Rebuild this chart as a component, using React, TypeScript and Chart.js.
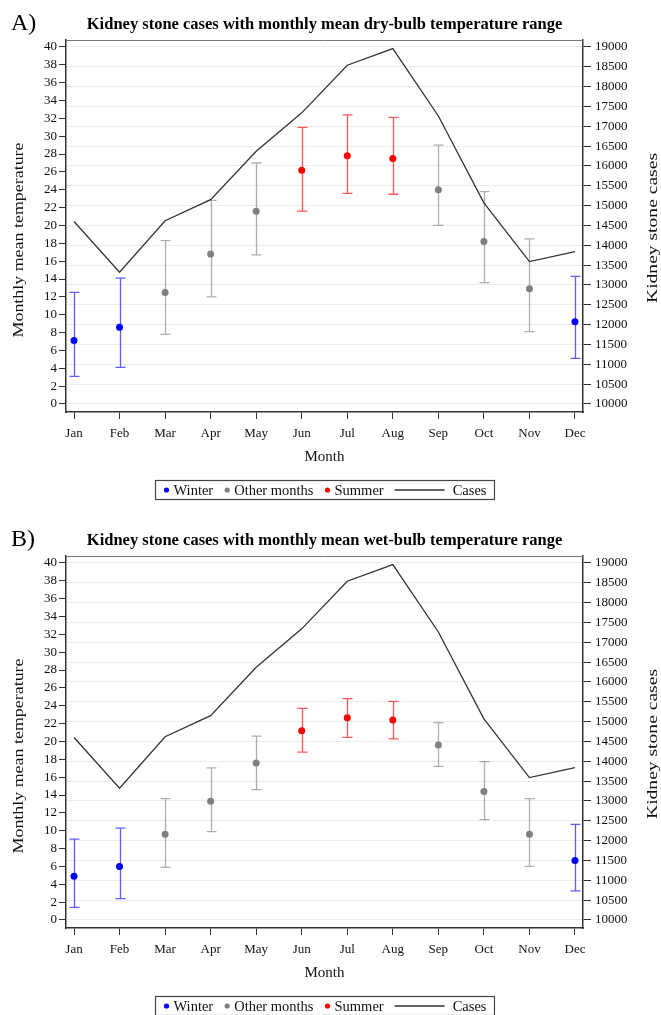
import React, { useEffect, useRef } from "react";
import { Chart, registerables } from "chart.js";

Chart.register(...registerables);

const months = ["Jan", "Feb", "Mar", "Apr", "May", "Jun", "Jul", "Aug", "Sep", "Oct", "Nov", "Dec"];
const season = ["winter", "winter", "other", "other", "other", "summer", "summer", "summer", "other", "other", "other", "winter"];
const tempTicks = [0, 2, 4, 6, 8, 10, 12, 14, 16, 18, 20, 22, 24, 26, 28, 30, 32, 34, 36, 38, 40];
const caseTicks = [10000, 10500, 11000, 11500, 12000, 12500, 13000, 13500, 14000, 14500, 15000, 15500, 16000, 16500, 17000, 17500, 18000, 18500, 19000];

const cases = [14600, 13320, 14620, 15150, 16370, 17340, 18540, 18960, 17260, 15070, 13590, 13840];

const dryMean = [7.1, 8.6, 12.5, 16.8, 21.6, 26.2, 27.8, 27.5, 24.0, 18.2, 12.9, 9.2];
const dryLow = [3.1, 4.1, 7.8, 12.0, 16.7, 21.6, 23.6, 23.5, 20.0, 13.6, 8.1, 5.1];
const dryHigh = [12.5, 14.1, 18.3, 22.8, 27.0, 31.0, 32.4, 32.1, 29.0, 23.8, 18.5, 14.3];

const wetMean = [4.9, 6.0, 9.6, 13.3, 17.6, 21.2, 22.65, 22.4, 19.6, 14.4, 9.6, 6.65];
const wetLow = [1.4, 2.4, 5.9, 9.9, 14.6, 18.8, 20.45, 20.3, 17.2, 11.25, 6.0, 3.25];
const wetHigh = [9.05, 10.3, 13.6, 17.05, 20.6, 23.7, 24.8, 24.5, 22.1, 17.75, 13.6, 10.7];

const FONT = "'Liberation Serif', 'Times New Roman', serif";
const pointColors: Record<string, string> = { winter: "#0000ff", other: "#808080", summer: "#ff0000" };
const barColors: Record<string, string> = {
  winter: "rgba(40,40,255,0.75)",
  other: "rgba(120,120,120,0.6)",
  summer: "rgba(255,30,30,0.75)",
};

function drawRotated(ctx: any, text: string, cx: number, cy: number, size: number, targetLen: number) {
  ctx.save();
  ctx.font = `${size}px ${FONT}`;
  ctx.fillStyle = "#111";
  ctx.textAlign = "center";
  ctx.textBaseline = "middle";
  const w = ctx.measureText(text).width;
  ctx.translate(cx, cy);
  ctx.rotate(-Math.PI / 2);
  ctx.scale(targetLen / w, 1);
  ctx.fillText(text, 0, 0);
  ctx.restore();
}

function makeConfig(letter: string, title: string, mean: number[], low: number[], high: number[], height: number) {
  const pts = (s: string) =>
    mean.map((v, i) => (season[i] === s ? { x: i, y: v } : null)).filter((p) => p !== null);

  const errorBars = {
    id: "errorBars",
    beforeDatasetsDraw(chart: any) {
      const { ctx } = chart;
      const xs = chart.scales.x;
      const ys = chart.scales.y;
      ctx.save();
      ctx.lineWidth = 1.3;
      for (let i = 0; i < mean.length; i++) {
        const x = Math.round(xs.getPixelForValue(i)) + 0.5;
        const y1 = ys.getPixelForValue(low[i]);
        const y2 = ys.getPixelForValue(high[i]);
        ctx.strokeStyle = barColors[season[i]];
        ctx.beginPath();
        ctx.moveTo(x, y1);
        ctx.lineTo(x, y2);
        ctx.moveTo(x - 5, y1);
        ctx.lineTo(x + 5, y1);
        ctx.moveTo(x - 5, y2);
        ctx.lineTo(x + 5, y2);
        ctx.stroke();
      }
      ctx.restore();
    },
  };

  const decorations = {
    id: "decorations",
    afterDraw(chart: any) {
      const { ctx, chartArea } = chart;
      ctx.save();
      ctx.strokeStyle = "#777";
      ctx.lineWidth = 1;
      ctx.beginPath();
      ctx.moveTo(chartArea.left, chartArea.top + 0.5);
      ctx.lineTo(chartArea.right, chartArea.top + 0.5);
      ctx.stroke();

      ctx.fillStyle = "#000";
      ctx.font = `24px ${FONT}`;
      ctx.textAlign = "left";
      ctx.textBaseline = "middle";
      ctx.fillText(letter, 11, 24);

      ctx.font = `bold 16.5px ${FONT}`;
      ctx.textAlign = "center";
      ctx.fillText(title, (chartArea.left + chartArea.right) / 2, 25);
      ctx.restore();

      drawRotated(ctx, "Monthly mean temperature", 19, 240, 15, 195);
      drawRotated(ctx, "Kidney stone cases", 653, 228, 15, 150);

      // legend
      ctx.save();
      ctx.font = `14.5px ${FONT}`;
      ctx.textBaseline = "middle";
      ctx.textAlign = "left";
      const items = chart.data.datasets.map((d: any) => ({ label: d.label, color: d.borderColor, line: d.yAxisID === "y1" }));
      const pad = 8;
      const dotGap = 10;
      const itemGap = 11;
      const lineLen = 50;
      let total = pad * 2;
      items.forEach((it: any, k: number) => {
        const w = ctx.measureText(it.label).width;
        total += (it.line ? lineLen + 8 : dotGap) + w + (k < items.length - 1 ? itemGap : 0);
      });
      const cx = (chartArea.left + chartArea.right) / 2;
      const bx = Math.round(cx - total / 2) + 0.5;
      const by = chartArea.bottom + 68.5;
      const bh = 19;
      ctx.strokeStyle = "#444";
      ctx.lineWidth = 1.2;
      ctx.strokeRect(bx, by, total, bh);
      let x = bx + pad;
      const ym = by + bh / 2;
      items.forEach((it: any) => {
        if (it.line) {
          ctx.strokeStyle = it.color;
          ctx.lineWidth = 1.3;
          ctx.beginPath();
          ctx.moveTo(x, ym);
          ctx.lineTo(x + lineLen, ym);
          ctx.stroke();
          x += lineLen + 8;
        } else {
          ctx.fillStyle = it.color;
          ctx.beginPath();
          ctx.arc(x + 3, ym, 2.6, 0, Math.PI * 2);
          ctx.fill();
          x += dotGap;
        }
        ctx.fillStyle = "#111";
        ctx.fillText(it.label, x, ym + 1);
        x += ctx.measureText(it.label).width + itemGap;
      });
      ctx.restore();
    },
  };

  const tickFont = { family: FONT, size: 13 };
  const titleFont = { family: FONT, size: 15 };

  return {
    type: "line",
    data: {
      datasets: [
        { label: "Winter", data: pts("winter"), yAxisID: "y", showLine: false, pointRadius: 3.5, pointBackgroundColor: pointColors.winter, borderColor: pointColors.winter, backgroundColor: pointColors.winter, pointBorderWidth: 0 },
        { label: "Other months", data: pts("other"), yAxisID: "y", showLine: false, pointRadius: 3.5, pointBackgroundColor: pointColors.other, borderColor: pointColors.other, backgroundColor: pointColors.other, pointBorderWidth: 0 },
        { label: "Summer", data: pts("summer"), yAxisID: "y", showLine: false, pointRadius: 3.5, pointBackgroundColor: pointColors.summer, borderColor: pointColors.summer, backgroundColor: pointColors.summer, pointBorderWidth: 0 },
        { label: "Cases", data: cases.map((c, i) => ({ x: i, y: c })), yAxisID: "y1", borderColor: "#333", borderWidth: 1.3, pointRadius: 0, tension: 0, fill: false },
      ],
    },
    options: {
      animation: false,
      responsive: false,
      devicePixelRatio: 1,
      layout: { padding: { top: 40, left: 0, right: 0, bottom: height - 40 - 372 - 58 } },
      plugins: { legend: { display: false }, tooltip: { enabled: false }, title: { display: false } },
      scales: {
        x: {
          type: "linear",
          min: -0.176,
          max: 11.176,
          afterBuildTicks: (s: any) => { s.ticks = months.map((_, i) => ({ value: i })); },
          afterFit: (s: any) => { s.height = 58; },
          ticks: { callback: (_v: any, i: number) => months[i], font: tickFont, color: "#111", padding: 7, autoSkip: false, maxRotation: 0 },
          grid: { drawOnChartArea: false, tickLength: 7, tickColor: "#333", color: "#333" },
          border: { display: true, color: "#333", width: 1.5 },
          title: { display: true, text: "Month", font: titleFont, color: "#111", padding: { top: 4, bottom: 4 } },
        },
        y: {
          type: "linear",
          position: "left",
          min: -0.9,
          max: 40.78,
          afterBuildTicks: (s: any) => { s.ticks = tempTicks.map((v) => ({ value: v })); },
          afterFit: (s: any) => { s.width = 66; },
          ticks: { font: tickFont, color: "#111", padding: 2 },
          grid: { drawOnChartArea: false, tickLength: 7, tickColor: "#333", color: "#333" },
          border: { display: true, color: "#333", width: 1.5 },
          title: { display: false },
        },
        y1: {
          type: "linear",
          position: "right",
          min: 9798,
          max: 19176,
          afterBuildTicks: (s: any) => { s.ticks = caseTicks.map((v) => ({ value: v })); },
          afterFit: (s: any) => { s.width = 78; },
          ticks: { font: tickFont, color: "#111", padding: 4, callback: (v: any) => String(v) },
          grid: { drawOnChartArea: true, tickLength: 8, tickColor: "#333", color: "#ececec", lineWidth: 1 },
          border: { display: true, color: "#333", width: 1.5 },
        },
      },
    },
    plugins: [errorBars, decorations],
  };
}

function Panel(props: { letter: string; title: string; mean: number[]; low: number[]; high: number[]; top: number; height: number }) {
  const ref = useRef<HTMLCanvasElement>(null);
  useEffect(() => {
    if (!ref.current) return;
    const chart = new Chart(ref.current, makeConfig(props.letter, props.title, props.mean, props.low, props.high, props.height) as any);
    return () => chart.destroy();
  }, []);
  return (
    <canvas
      ref={ref}
      width={661}
      height={props.height}
      style={{ position: "absolute", left: 0, top: props.top, width: 661, height: props.height, display: "block" }}
    />
  );
}

export default function App() {
  return (
    <div style={{ position: "absolute", left: 0, top: 0, width: 661, height: 1015, background: "#fff", overflow: "hidden" }}>
      <Panel letter="A)" title="Kidney stone cases with monthly mean dry-bulb temperature range" mean={dryMean} low={dryLow} high={dryHigh} top={0} height={516} />
      <Panel letter="B)" title="Kidney stone cases with monthly mean wet-bulb temperature range" mean={wetMean} low={wetLow} high={wetHigh} top={516} height={499} />
    </div>
  );
}
